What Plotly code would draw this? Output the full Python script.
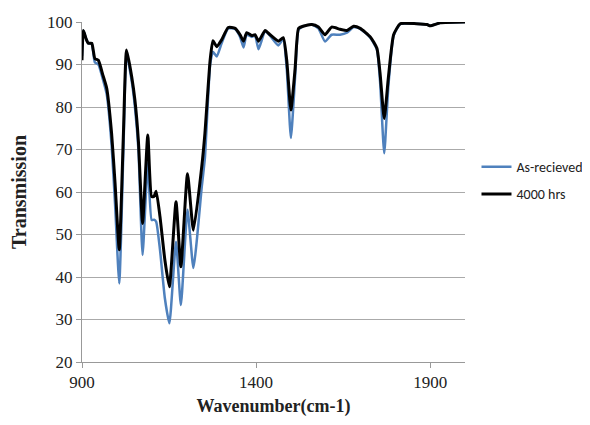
import plotly.graph_objects as go

wavenumber = [900, 904, 912, 918, 928, 937, 947, 960, 971, 985, 995, 1007, 1019, 1028, 1043, 1052,
              1062, 1074, 1089, 1100, 1107, 1113, 1124, 1138, 1151, 1170, 1184, 1203, 1220, 1244,
              1253, 1268, 1276, 1287, 1301, 1320, 1340, 1354, 1364, 1373, 1388, 1397, 1407, 1426,
              1440, 1464, 1478, 1488, 1500, 1512, 1522, 1535, 1560, 1579, 1598, 1617, 1641, 1661,
              1680, 1699, 1728, 1747, 1756, 1768, 1780, 1795, 1814, 1860, 1891, 1900, 1929, 2000]

as_received = [92, 98, 96, 95, 94.8, 90.5, 90, 86.5, 83, 71, 57, 38.5, 70, 92.5, 86, 80,
               70, 45.2, 66.8, 53.4, 53.5, 53, 46.4, 35, 29.1, 48.3, 33.4, 55.8, 42.1, 61.2,
               68, 90, 93, 91.9, 95, 98.5, 98.3, 96.5, 94, 97, 96.5, 96.8, 93.6, 97.8,
               96.8, 94.5, 96, 89, 72.7, 87, 98.2, 99, 99.4, 98.5, 95.4, 97, 97, 97.5,
               98.8, 98.4, 96.3, 93.5, 86, 69.1, 85, 96.8, 99.5, 99.6, 99.4, 99.1, 99.8, 100]

hrs_4000 = [91, 98, 96, 95, 95, 91.4, 91, 87.5, 84.4, 73.8, 62, 46.4, 73.8, 93.4, 87, 81.6,
            72, 52.6, 73.4, 58.9, 59, 60.2, 54.2, 44, 37.7, 57.7, 42.4, 64.3, 51, 66,
            73.8, 91, 95.6, 94.2, 95.8, 98.7, 98.5, 97, 95.5, 97.5, 96.8, 97, 95.5, 98,
            97, 95.5, 96.3, 91, 79.3, 89, 98.5, 99, 99.4, 98.8, 97, 98.8, 98.3, 98,
            99, 98.5, 96.5, 93.8, 88, 77.3, 87, 97, 99.6, 99.6, 99.4, 99.1, 99.8, 100]

x_ticks = [900, 1400, 1900]
y_ticks = [20, 30, 40, 50, 60, 70, 80, 90, 100]

fig = go.Figure()
fig.add_trace(go.Scatter(x=wavenumber, y=as_received, mode="lines", name="As-recieved",
                         legendgroup="a",
                         line=dict(color="#4F81BD", width=2.5, shape="spline", smoothing=0.5)))
fig.add_trace(go.Scatter(x=wavenumber, y=hrs_4000, mode="lines", name="4000 hrs",
                         legendgroup="b",
                         line=dict(color="#000000", width=3, shape="spline", smoothing=0.5)))

serif = "Liberation Serif, Times New Roman, serif"
fig.update_layout(
    width=582, height=409,
    margin=dict(l=74, r=125, t=14, b=55, autoexpand=False),
    paper_bgcolor="white", plot_bgcolor="white",
    showlegend=True,
    legend=dict(x=1.03, y=0.62, xanchor="left", yanchor="top",
                font=dict(family="Liberation Sans Narrow, Carlito, Arial Narrow, sans-serif", size=14, color="#222"),
                bgcolor="rgba(0,0,0,0)", tracegroupgap=6),
    xaxis=dict(range=[900, 2000], tickvals=x_ticks, showgrid=False, zeroline=False, automargin=False,
               showline=True, linecolor="#999", linewidth=1, ticks="outside", ticklen=5,
               tickcolor="#999", tickfont=dict(family=serif, size=17, color="#222"),
               title=dict(text="<b>Wavenumber(cm-1)</b>", font=dict(family=serif, size=18, color="#222"), standoff=8)),
    yaxis=dict(range=[20, 100], tickvals=y_ticks, showgrid=True, gridcolor="#AAAAAA", gridwidth=1,
               zeroline=False, showline=True, linecolor="#999", linewidth=1, ticks="outside", automargin=False,
               ticklen=5, tickcolor="#999", tickfont=dict(family=serif, size=17, color="#222"),
               title=dict(text="<b>Transmission</b>", font=dict(family=serif, size=20, color="#222"), standoff=25)),
)

fig.write_html("out.html")
